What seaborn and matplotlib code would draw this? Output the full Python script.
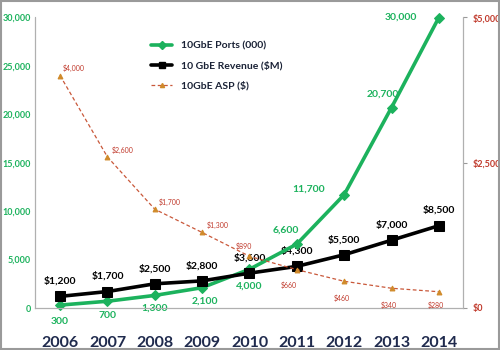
import numpy as np
import pandas as pd
import seaborn as sns
from matplotlib import pyplot as plt
from matplotlib.lines import Line2D
from matplotlib.patches import Rectangle

years = [2006, 2007, 2008, 2009, 2010, 2011, 2012, 2013, 2014]
ports = [300, 700, 1300, 2100, 4000, 6600, 11700, 20700, 30000]
revenue = [1200, 1700, 2500, 2800, 3600, 4300, 5500, 7000, 8500]
asp = [4000, 2600, 1700, 1300, 890, 660, 460, 340, 280]

green = '#1cb25d'
red = '#c0392b'
asp_col = '#c9583a'
navy = '#1f2a4d'

sns.set_style('white')
plt.rcParams['font.family'] = ['Lato', 'DejaVu Sans']

df = pd.DataFrame({'year': years, 'ports': ports, 'revenue': revenue, 'asp': asp})

fig = plt.figure(figsize=(5, 3.5), dpi=100)
ax = fig.add_axes([0.07, 0.12, 0.856, 0.83])
ax2 = ax.twinx()

sns.lineplot(data=df, x='year', y='ports', ax=ax, color=green, lw=2.6,
             marker='D', markersize=5, markeredgecolor=green, clip_on=False, zorder=4)
sns.lineplot(data=df, x='year', y='revenue', ax=ax, color='black', lw=2.6,
             marker='s', markersize=7.5, markeredgecolor='black', clip_on=False, zorder=5)
sns.lineplot(data=df, x='year', y='asp', ax=ax2, color=asp_col, lw=0.9, ls=(0, (3, 2)),
             marker='^', markersize=3.5, markeredgecolor='#d08a2a', markerfacecolor='#d08a2a',
             clip_on=False)

ax.set_ylim(0, 30000)
ax2.set_ylim(0, 5000)
ax.set_xlim(2005.47, 2014.51)
ax.set_yticks(range(0, 30001, 5000))
ax.set_yticklabels([f'{v:,}' for v in range(0, 30001, 5000)], color=green,
                   fontsize=6.5, fontweight='bold')
ax2.set_yticks([0, 2500, 5000])
ax2.set_yticklabels(['$0', '$2,500', '$5,000'], color=red, fontsize=6.5, fontweight='bold')
ax.set_xticks(years)
ax.set_xticklabels([str(y) for y in years], fontsize=11.5, fontweight='bold', color=navy)
ax.set_xticks([y + 0.5 for y in years[:-1]], minor=True)
ax.tick_params(axis='x', which='major', length=0, pad=20)
ax.tick_params(axis='x', which='minor', length=4, color='#999999', direction='out')
ax.tick_params(axis='y', length=0, pad=3)
ax2.tick_params(axis='y', length=3, color='#999999', pad=4)
ax.set_xlabel('')
ax.set_ylabel('')
ax2.set_ylabel('')

for a in (ax, ax2):
    a.spines['top'].set_visible(False)
    for s in ('left', 'right', 'bottom'):
        a.spines[s].set_color('#b0b0b0')
        a.spines[s].set_linewidth(0.8)

# port labels (green)
port_off = [(0, -12), (0, -10), (0, -9), (2, -10), (0, -12),
            (-8, 10), (-14, 4), (-6, 10), (-16, 0)]
for x, y, (dx, dy) in zip(years, ports, port_off):
    ax.annotate(f'{y:,}', (x, y), xytext=(dx, dy), textcoords='offset points',
                ha='center' if dx > -10 else 'right', va='center', color=green,
                fontsize=7.5, fontweight='bold')

for x, y in zip(years, revenue):
    ax.annotate(f'${y:,}', (x, y), xytext=(0, 11), textcoords='offset points',
                ha='center', va='center', color='black', fontsize=7.5, fontweight='bold')

asp_off = [(2, 5), (3, 5), (3, 5), (3, 5), (-4, 7), (-6, -11), (-2, -12), (-2, -12), (-2, -10)]
for x, y, (dx, dy) in zip(years, asp, asp_off):
    ax2.annotate(f'${y:,}', (x, y), xytext=(dx, dy), textcoords='offset points',
                 ha='left' if dx > 0 else 'center', va='center', color=red, fontsize=5)

handles = [Line2D([], [], color=green, lw=2.6, marker='D', markersize=4),
           Line2D([], [], color='black', lw=2.6, marker='s', markersize=5),
           Line2D([], [], color=asp_col, lw=0.9, ls=(0, (3, 2)), marker='^', markersize=3,
                  markerfacecolor='#d08a2a', markeredgecolor='#d08a2a')]
leg = ax.legend(handles, ['10GbE Ports (000)', '10 GbE Revenue ($M)', '10GbE ASP ($)'],
                loc='upper left', bbox_to_anchor=(0.25, 0.95), frameon=False,
                handlelength=2, labelspacing=1.0, prop={'weight': 'bold', 'size': 7.5})
for t in leg.get_texts():
    t.set_color('#1a2236')

fig.patches.append(Rectangle((0.002, 0.002), 0.996, 0.996, transform=fig.transFigure,
                             fill=False, edgecolor='#9a9a9a', lw=1.5))

fig.savefig('out.png', dpi=100)
